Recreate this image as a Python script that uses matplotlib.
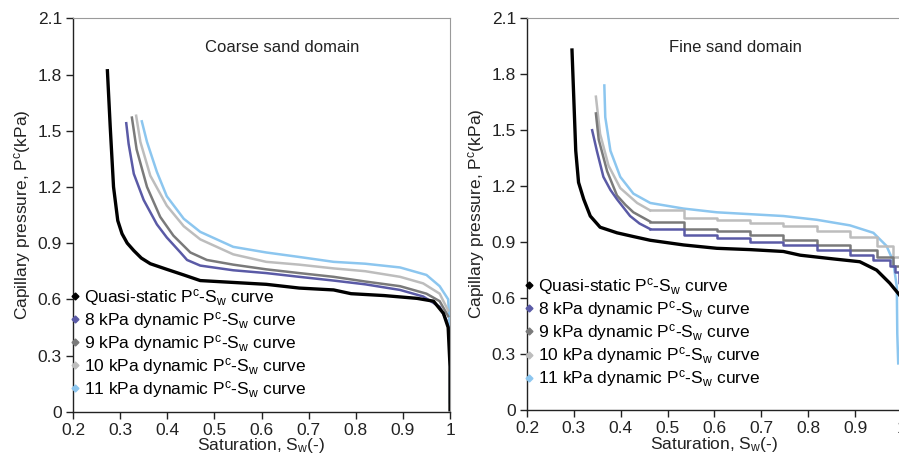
import matplotlib
matplotlib.use("Agg")
import matplotlib.pyplot as plt
from matplotlib.lines import Line2D

plt.rcParams['font.family'] = ['Liberation Sans', 'DejaVu Sans']
plt.rcParams['mathtext.fontset'] = 'custom'
plt.rcParams['mathtext.rm'] = 'Liberation Sans'
plt.rcParams['mathtext.it'] = 'Liberation Sans'

# ---------------- coarse sand domain (left) ----------------
coarse_qs_sw = [0.273, 0.279, 0.286, 0.295, 0.304, 0.315, 0.329, 0.345, 0.364, 0.399, 0.435, 0.47, 0.54, 0.61, 0.68, 0.753, 0.79, 0.86, 0.93, 0.965, 0.986, 0.996, 1.0, 1.0]
coarse_qs_pc = [1.82, 1.52, 1.20, 1.02, 0.95, 0.90, 0.86, 0.82, 0.79, 0.76, 0.73, 0.70, 0.69, 0.68, 0.66, 0.65, 0.63, 0.62, 0.605, 0.59, 0.525, 0.45, 0.24, 0.01]

coarse_8_sw = [0.313, 0.318, 0.329, 0.35, 0.378, 0.399, 0.428, 0.442, 0.47, 0.54, 0.61, 0.68, 0.753, 0.82, 0.894, 0.943, 0.978, 0.992, 1.0]
coarse_8_pc = [1.54, 1.43, 1.27, 1.13, 1.00, 0.93, 0.85, 0.81, 0.78, 0.755, 0.74, 0.72, 0.70, 0.68, 0.65, 0.615, 0.56, 0.49, 0.42]

coarse_9_sw = [0.325, 0.335, 0.357, 0.385, 0.413, 0.449, 0.484, 0.54, 0.61, 0.68, 0.753, 0.82, 0.894, 0.95, 0.978, 0.996]
coarse_9_pc = [1.57, 1.40, 1.20, 1.04, 0.94, 0.85, 0.81, 0.785, 0.76, 0.74, 0.72, 0.695, 0.67, 0.63, 0.59, 0.51]

coarse_10_sw = [0.334, 0.343, 0.364, 0.399, 0.435, 0.47, 0.54, 0.61, 0.68, 0.753, 0.82, 0.894, 0.943, 0.978, 0.996]
coarse_10_pc = [1.58, 1.44, 1.26, 1.10, 0.99, 0.92, 0.84, 0.80, 0.785, 0.765, 0.75, 0.72, 0.685, 0.63, 0.54]

coarse_11_sw = [0.346, 0.357, 0.378, 0.399, 0.435, 0.47, 0.54, 0.61, 0.68, 0.753, 0.82, 0.894, 0.95, 0.978, 0.996, 1.0, 1.0]
coarse_11_pc = [1.55, 1.44, 1.28, 1.15, 1.03, 0.96, 0.88, 0.85, 0.826, 0.80, 0.79, 0.77, 0.73, 0.67, 0.60, 0.42, 0.05]

# ---------------- fine sand domain (right) ----------------
fine_qs_sw = [0.296, 0.30, 0.304, 0.31, 0.321, 0.335, 0.356, 0.392, 0.427, 0.463, 0.534, 0.605, 0.676, 0.747, 0.783, 0.854, 0.91, 0.946, 0.974, 0.992, 1.0]
fine_qs_pc = [1.93, 1.66, 1.39, 1.22, 1.13, 1.04, 0.98, 0.95, 0.93, 0.91, 0.885, 0.867, 0.86, 0.85, 0.83, 0.81, 0.795, 0.75, 0.68, 0.625, 0.60]

fine_8_sw = [0.339, 0.349, 0.363, 0.378, 0.392, 0.42, 0.44, 0.463, 0.534, 0.605, 0.676, 0.747, 0.818, 0.889, 0.939, 0.974, 0.985, 0.993, 0.995, 0.995]
fine_8_pc = [1.50, 1.39, 1.25, 1.18, 1.13, 1.04, 1.00, 0.97, 0.94, 0.92, 0.90, 0.885, 0.86, 0.83, 0.805, 0.77, 0.74, 0.68, 0.55, 0.0]

fine_9_sw = [0.347, 0.353, 0.371, 0.392, 0.41, 0.427, 0.463, 0.534, 0.605, 0.676, 0.747, 0.818, 0.889, 0.946, 0.981, 0.995]
fine_9_pc = [1.59, 1.45, 1.28, 1.15, 1.10, 1.06, 1.01, 0.97, 0.96, 0.94, 0.91, 0.885, 0.86, 0.82, 0.77, 0.70]

fine_10_sw = [0.347, 0.356, 0.374, 0.399, 0.435, 0.463, 0.534, 0.605, 0.676, 0.747, 0.818, 0.889, 0.946, 0.981, 0.995]
fine_10_pc = [1.68, 1.48, 1.31, 1.19, 1.11, 1.07, 1.03, 1.02, 1.00, 0.985, 0.96, 0.93, 0.88, 0.82, 0.74]

fine_11_sw = [0.365, 0.367, 0.378, 0.399, 0.427, 0.463, 0.534, 0.605, 0.676, 0.747, 0.818, 0.889, 0.939, 0.967, 0.981, 0.989, 0.99, 0.992]
fine_11_pc = [1.74, 1.57, 1.39, 1.25, 1.16, 1.11, 1.08, 1.06, 1.05, 1.04, 1.02, 0.99, 0.95, 0.88, 0.80, 0.66, 0.41, 0.25]

labels = ["Quasi-static P$^{c}$-S$_{w}$ curve",
          "8 kPa dynamic P$^{c}$-S$_{w}$ curve",
          "9 kPa dynamic P$^{c}$-S$_{w}$ curve",
          "10 kPa dynamic P$^{c}$-S$_{w}$ curve",
          "11 kPa dynamic P$^{c}$-S$_{w}$ curve"]
colors = ["#000000", "#5a5aa6", "#7a7a7a", "#bdbdbd", "#8cc6ef"]
widths = [2.4, 1.8, 1.8, 1.8, 1.8]

x_ticks = [0.2, 0.3, 0.4, 0.5, 0.6, 0.7, 0.8, 0.9, 1.0]
x_labels = ["0.2", "0.3", "0.4", "0.5", "0.6", "0.7", "0.8", "0.9", "1"]
y_ticks = [0, 0.3, 0.6, 0.9, 1.2, 1.5, 1.8, 2.1]
y_labels = ["0", "0.3", "0.6", "0.9", "1.2", "1.5", "1.8", "2.1"]

fig = plt.figure(figsize=(8.99, 4.67), dpi=100)
ax1 = fig.add_axes([0.0812, 0.1184, 0.4194, 0.8424])
ax2 = fig.add_axes([0.5862, 0.1220, 0.4171, 0.8388])

coarse = [(coarse_qs_sw, coarse_qs_pc), (coarse_8_sw, coarse_8_pc), (coarse_9_sw, coarse_9_pc),
          (coarse_10_sw, coarse_10_pc), (coarse_11_sw, coarse_11_pc)]
fine = [(fine_qs_sw, fine_qs_pc), (fine_8_sw, fine_8_pc), (fine_9_sw, fine_9_pc),
        (fine_10_sw, fine_10_pc), (fine_11_sw, fine_11_pc)]

for ax, series, title, leg_y, stepped in [(ax1, coarse, "Coarse sand domain", 0.318, False),
                                          (ax2, fine, "Fine sand domain", 0.342, True)]:
    # draw lightest curves first so black ends on top
    for i in [4, 3, 2, 1, 0]:
        sw, pc = series[i]
        if stepped and i in (1, 2, 3):
            # steep part drawn smooth, plateau drawn as steps
            k = next(j for j, v in enumerate(sw) if v > 0.45)
            ax.plot(sw[:k + 1], pc[:k + 1], color=colors[i], lw=widths[i])
            ax.plot(sw[k:], pc[k:], color=colors[i], lw=widths[i], drawstyle="steps-post")
        else:
            ax.plot(sw, pc, color=colors[i], lw=widths[i])
    ax.set_xlim(0.2, 1.0)
    ax.set_ylim(0, 2.1)
    ax.set_xticks(x_ticks)
    ax.set_xticklabels(x_labels)
    ax.set_yticks(y_ticks)
    ax.set_yticklabels(y_labels)
    ax.tick_params(direction="out", length=5, width=1, labelsize=12.5,
                   colors="#222222", pad=3)
    for s in ["left", "bottom"]:
        ax.spines[s].set_color("#222222")
        ax.spines[s].set_linewidth(1.0)
    for s in ["top", "right"]:
        ax.spines[s].set_color("#9a9a9a")
        ax.spines[s].set_linewidth(0.8)
    ax.set_xlabel("Saturation, S$_{w}$(-)", fontsize=12.5, color="#222222", labelpad=-1)
    ax.set_ylabel("Capillary pressure, P$^{c}$(kPa)", fontsize=12.5, color="#222222", labelpad=3)
    ax.text(0.555, 0.925, title, transform=ax.transAxes, ha="center", va="center",
            fontsize=12, color="#222222")
    handles = [Line2D([], [], ls="none", marker="D", markersize=3.5, color=c) for c in colors]
    ax.legend(handles, labels, loc="upper left", bbox_to_anchor=(-0.005, leg_y),
              frameon=False, fontsize=12.5, handlelength=0.4, handletextpad=0.35,
              labelspacing=0.12, borderpad=0, borderaxespad=0)

fig.savefig("out.png", dpi=100)
